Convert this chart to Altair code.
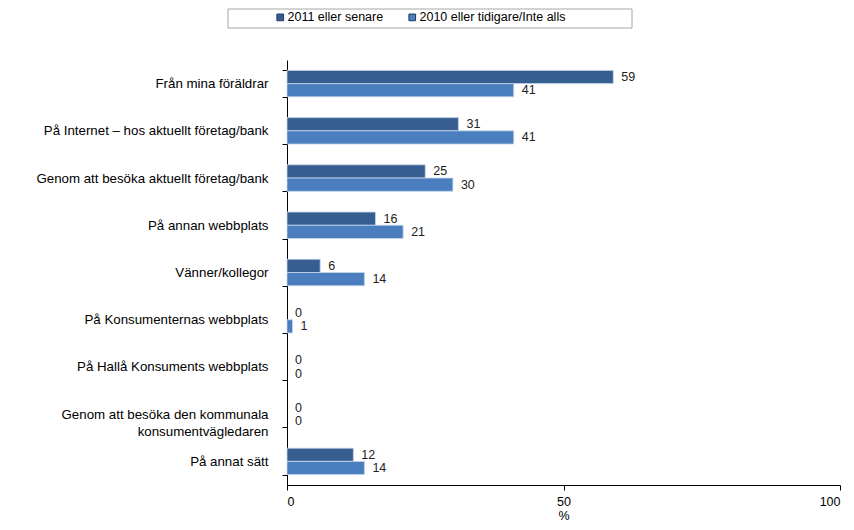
import altair as alt
import pandas as pd

categories = [
    "Från mina föräldrar",
    "På Internet – hos aktuellt företag/bank",
    "Genom att besöka aktuellt företag/bank",
    "På annan webbplats",
    "Vänner/kollegor",
    "På Konsumenternas webbplats",
    "På Hallå Konsuments webbplats",
    "Genom att besöka den kommunala konsumentvägledaren",
    "På annat sätt",
]
series = ["2011 eller senare", "2010 eller tidigare/Inte alls"]
values_2011 = [59, 31, 25, 16, 6, 0, 0, 0, 12]
values_2010 = [41, 41, 30, 21, 14, 1, 0, 0, 14]
colors = ["#375E91", "#4A7EBE"]

rows = []
for c, a, b in zip(categories, values_2011, values_2010):
    rows.append({"cat": c, "serie": series[0], "v": a})
    rows.append({"cat": c, "serie": series[1], "v": b})
df = pd.DataFrame(rows)

font = "Liberation Sans"

y_enc = alt.Y(
    "cat:N", sort=categories, title=None,
    scale=alt.Scale(domain=categories, paddingInner=0.44, paddingOuter=0.22),
    axis=alt.Axis(
        tickBand="extent", tickSize=5, tickColor="#000", domainColor="#000",
        labelFontSize=13.3, labelColor="#000", labelFont=font, labelPadding=14,
        labelLimit=400, labelLineHeight=17,
        labelExpr="datum.label == 'Genom att besöka den kommunala konsumentvägledaren' ? ['Genom att besöka den kommunala', 'konsumentvägledaren     '] : datum.label",
    ),
)
x_enc = alt.X(
    "v:Q", title="%",
    scale=alt.Scale(domain=[0, 100], nice=False),
    axis=alt.Axis(
        values=[0, 50, 100], grid=False, tickSize=5, tickColor="#000", domainColor="#000",
        labelFontSize=12.5, labelColor="#000", labelFont=font, labelPadding=5,
        titleFontSize=12.5, titleFont=font, titleFontWeight="normal", titleColor="#000",
        titlePadding=2,
    ),
)

bars = alt.Chart(df).transform_filter("datum.v > 0").mark_bar(
    stroke="#C5D5EA", strokeWidth=0.8
).encode(
    x=x_enc,
    y=y_enc,
    yOffset=alt.YOffset("serie:N", sort=series, scale=alt.Scale(domain=series)),
    color=alt.Color(
        "serie:N", sort=series,
        scale=alt.Scale(domain=series, range=colors),
        legend=alt.Legend(
            title=None, orient="none", direction="horizontal",
            legendX=-13, legendY=-49, padding=0,
            symbolType="square", symbolSize=45, symbolStrokeColor="#1F3A60",
            symbolStrokeWidth=1, labelFontSize=12.5, labelFont=font, labelColor="#000",
            labelOffset=1, columnPadding=22,
        ),
    ),
)

texts = alt.Chart(df).mark_text(
    align="left", baseline="middle", dx=8, fontSize=12.5, font=font, color="#222"
).encode(
    x="v:Q",
    y=alt.Y("cat:N", sort=categories),
    yOffset=alt.YOffset("serie:N", sort=series),
    text="v:Q",
)

legend_box = alt.Chart(pd.DataFrame({"a": [0]})).mark_rect(
    fill=None, stroke="#A6A6A6", strokeWidth=1
).encode(
    x=alt.value(-59), x2=alt.value(345), y=alt.value(-51), y2=alt.value(-32)
)

chart = alt.layer(legend_box, bars, texts).properties(
    width=553, height=425,
    autosize=alt.AutoSizeParams(type="none"),
    padding={"left": 279, "top": 52, "right": 6, "bottom": 37},
).configure_view(stroke=None)

chart.save("out.html", embed_options={"renderer": "svg", "actions": False})
